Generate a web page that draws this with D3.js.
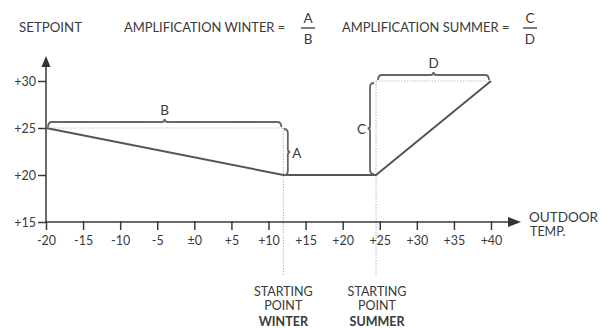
<!DOCTYPE html>
<html>
<head>
<meta charset="utf-8">
<script src="https://cdn.jsdelivr.net/npm/d3@7"></script>
<style>
  html, body { margin: 0; padding: 0; background: #fff; }
  svg { display: block; }
  text { font-family: Lato, "Open Sans", sans-serif; fill: #3a3a3a; }
</style>
</head>
<body>
<svg id="chart" width="613" height="328"></svg>
<script>
// Heating-curve diagram: setpoint vs outdoor temperature
const xTicks = [-20, -15, -10, -5, 0, 5, 10, 15, 20, 25, 30, 35, 40];
const xTickLabels = ["-20", "-15", "-10", "-5", "±0", "+5", "+10", "+15", "+20", "+25", "+30", "+35", "+40"];
const yTicks = [15, 20, 25, 30];
const yTickLabels = ["+15", "+20", "+25", "+30"];

// Setpoint curve (outdoor temperature, setpoint)
const curveTemps = [-20, 12, 24.5, 40];
const curveSetpoints = [25, 20, 20, 30];

const winterStart = 12;
const summerStart = 24.5;

const svg = d3.select("#chart");
const x = d3.scaleLinear().domain([-20, 40]).range([46, 491]);
const y = d3.scaleLinear().domain([15, 30]).range([222, 81]);

const axisColor = "#3a3a3a";
const curveColor = "#555";
const braceColor = "#666";
const dotColor = "#b5b5b5";
const guideBottom = 276;
const labelFont = 12.5;

// dotted guides
const guides = [
  [[x(-20), y(25)], [x(winterStart), y(25)]],
  [[x(winterStart), y(25)], [x(winterStart), guideBottom]],
  [[x(summerStart), y(30)], [x(summerStart), guideBottom]],
  [[x(summerStart), y(30)], [x(40), y(30)]]
];
svg.append("g").selectAll("line").data(guides).join("line")
  .attr("x1", d => d[0][0]).attr("y1", d => d[0][1])
  .attr("x2", d => d[1][0]).attr("y2", d => d[1][1])
  .attr("stroke", dotColor).attr("stroke-width", 1.2)
  .attr("stroke-dasharray", "1.2,1.6");

// x axis
const xAxis = d3.axisBottom(x).tickValues(xTicks)
  .tickFormat((d, i) => xTickLabels[i]).tickSize(8).tickPadding(6).tickSizeOuter(0);
const gx = svg.append("g").attr("transform", `translate(0,${y(15)})`).call(xAxis);
gx.select(".domain").remove();
gx.selectAll(".tick line").attr("stroke", axisColor).attr("stroke-width", 1.5).attr("y1", -1);
gx.selectAll(".tick text").attr("font-size", labelFont).attr("font-family", "Lato, sans-serif").attr("fill", "#3a3a3a");
svg.append("line").attr("x1", x(-20)).attr("x2", 510).attr("y1", y(15)).attr("y2", y(15))
  .attr("stroke", axisColor).attr("stroke-width", 1.5);
svg.append("path")
  .attr("d", `M508,${y(15) - 5} L521,${y(15)} L508,${y(15) + 5} Z`)
  .attr("fill", "#333");

// y axis
const yAxis = d3.axisLeft(y).tickValues(yTicks)
  .tickFormat((d, i) => yTickLabels[i]).tickSize(8).tickPadding(2).tickSizeOuter(0);
const gy = svg.append("g").attr("transform", `translate(${x(-20)},0)`).call(yAxis);
gy.select(".domain").remove();
gy.selectAll(".tick line").attr("stroke", axisColor).attr("stroke-width", 1.5);
gy.selectAll(".tick text").attr("font-size", labelFont).attr("font-family", "Lato, sans-serif").attr("fill", "#3a3a3a");
svg.append("line").attr("x1", x(-20)).attr("x2", x(-20)).attr("y1", y(15)).attr("y2", 64)
  .attr("stroke", axisColor).attr("stroke-width", 1.5);
svg.append("path")
  .attr("d", `M${x(-20) - 4.5},67 L${x(-20)},56 L${x(-20) + 4.5},67 Z`)
  .attr("fill", "#333");

// setpoint curve
const curve = curveTemps.map((t, i) => [x(t), y(curveSetpoints[i])]);
svg.append("path")
  .attr("d", d3.line()(curve))
  .attr("fill", "none").attr("stroke", curveColor).attr("stroke-width", 2);

// braces
function hBrace(x0, x1, yy, dir) {
  // dir = -1: ends turn down, nub up
  const m = (x0 + x1) / 2, e = 5 * -dir;
  return `M${x0},${yy + e} Q${x0},${yy} ${x0 + 4},${yy} L${m - 3},${yy} Q${m},${yy} ${m},${yy - e * 0.6} Q${m},${yy} ${m + 3},${yy} L${x1 - 4},${yy} Q${x1},${yy} ${x1},${yy + e}`;
}
function vBrace(xx, y0, y1, dir) {
  // dir = 1: nub to the right, ends turn left
  const m = (y0 + y1) / 2, e = -4 * dir;
  return `M${xx + e},${y0} Q${xx},${y0} ${xx},${y0 + 4} L${xx},${m - 3} Q${xx},${m} ${xx - e * 0.6},${m} Q${xx},${m} ${xx},${m + 3} L${xx},${y1 - 4} Q${xx},${y1} ${xx + e},${y1}`;
}
const braces = svg.append("g").attr("fill", "none").attr("stroke", braceColor).attr("stroke-width", 1.8);
const bY = y(25) - 6, dY = y(30) - 6;
braces.append("path").attr("d", hBrace(x(-20) + 2, x(winterStart) - 2, bY, -1));
braces.append("path").attr("d", vBrace(x(winterStart) + 4.5, y(25) + 1, y(20), 1));
braces.append("path").attr("d", vBrace(x(summerStart) - 6, y(30) + 2, y(20) - 1, -1));
braces.append("path").attr("d", hBrace(x(summerStart) + 2, x(40) - 2, dY, -1));

const letterStyle = s => s.attr("font-size", 13.5).attr("dominant-baseline", "central");
svg.append("text").text("B").attr("x", (x(-20) + x(winterStart)) / 2).attr("y", bY - 12)
  .attr("text-anchor", "middle").call(letterStyle);
svg.append("text").text("A").attr("x", x(winterStart) + 9).attr("y", (y(25) + y(20)) / 2 + 1)
  .attr("text-anchor", "start").call(letterStyle);
svg.append("text").text("C").attr("x", x(summerStart) - 10).attr("y", (y(30) + y(20)) / 2 + 1)
  .attr("text-anchor", "end").call(letterStyle);
svg.append("text").text("D").attr("x", (x(summerStart) + x(40)) / 2).attr("y", dY - 12)
  .attr("text-anchor", "middle").call(letterStyle);

// header
const headerFont = 12.9;
svg.append("text").text("SETPOINT").attr("x", 19).attr("y", 32).attr("font-size", 13.3);
svg.append("text").text("AMPLIFICATION WINTER =").attr("x", 124).attr("y", 32).attr("font-size", headerFont);
svg.append("text").text("AMPLIFICATION SUMMER =").attr("x", 342).attr("y", 32).attr("font-size", headerFont);
function fraction(cx, top, bottom) {
  svg.append("text").text(top).attr("x", cx).attr("y", 23).attr("text-anchor", "middle").attr("font-size", 13.5);
  svg.append("line").attr("x1", cx - 7).attr("x2", cx + 7).attr("y1", 28).attr("y2", 28)
    .attr("stroke", "#3a3a3a").attr("stroke-width", 1.3);
  svg.append("text").text(bottom).attr("x", cx).attr("y", 44).attr("text-anchor", "middle").attr("font-size", 13.5);
}
fraction(308, "A", "B");
fraction(530, "C", "D");

// axis title
svg.append("text").text("OUTDOOR").attr("x", 529).attr("y", 222).attr("font-size", 13.5);
svg.append("text").text("TEMP.").attr("x", 530).attr("y", 236).attr("font-size", 12.5);

// starting point labels
function startLabel(cx, season) {
  const g = svg.append("g").attr("text-anchor", "middle").attr("font-size", 12.5);
  g.append("text").text("STARTING").attr("x", cx).attr("y", 296);
  g.append("text").text("POINT").attr("x", cx).attr("y", 310);
  g.append("text").text(season).attr("x", cx).attr("y", 326).attr("font-weight", "bold");
}
startLabel(x(winterStart), "WINTER");
startLabel(x(summerStart) + 1, "SUMMER");
</script>
</body>
</html>
